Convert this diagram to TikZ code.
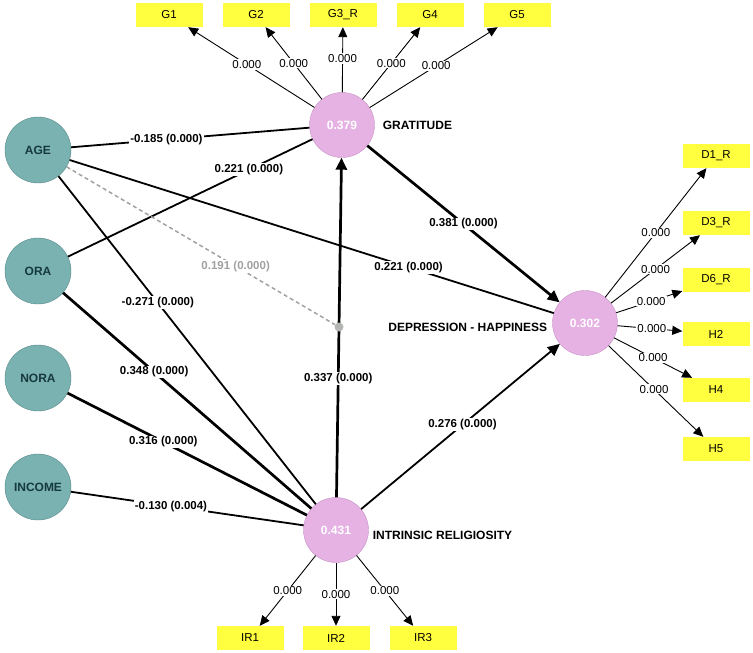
\documentclass[tikz,border=0pt]{standalone}
\usepackage{fontspec}
\setmainfont{Liberation Sans}
\usepackage{tikz}
\usetikzlibrary{positioning, arrows.meta}
\definecolor{lvteal}{RGB}{122,178,178}
\definecolor{lvtealdark}{RGB}{84,134,134}
\definecolor{lvtealtext}{RGB}{22,58,60}
\definecolor{lvpink}{RGB}{230,178,228}
\definecolor{lvpinkdark}{RGB}{196,146,196}
\definecolor{lvyellow}{RGB}{255,255,64}
\definecolor{modgray}{RGB}{160,162,160}

\begin{document}
\begin{tikzpicture}[x=1pt, y=-1pt,
    every node/.style={font=\fontsize{11.5}{13}\selectfont},
    exo/.style={circle, draw=lvtealdark, fill=lvteal, minimum size=66pt, inner sep=0pt, text=lvtealtext, font=\fontsize{12}{14}\selectfont\bfseries},
    endo/.style={circle, draw=lvpinkdark, fill=lvpink, minimum size=65pt, inner sep=0pt, text=white, font=\fontsize{12}{14}\selectfont\bfseries},
    ind/.style={rectangle, fill=lvyellow, minimum width=67pt, minimum height=24pt, inner sep=0pt},
    lvname/.style={inner sep=0pt, font=\fontsize{12}{14}\selectfont\bfseries},
    coef/.style={fill=white, inner sep=1pt, font=\fontsize{11.5}{13}\selectfont\bfseries},
    load/.style={fill=white, inner sep=1pt, pos=0.5},
    pth/.style={line width=1.8pt},
    strong/.style={line width=2.7pt},
    tip/.style={-{Triangle[length=12pt, width=11pt]}},
    outer/.style={line width=0.9pt, -{Triangle[length=10pt, width=9pt]}}]
  \useasboundingbox (0,0) rectangle (753,653);
  \node[exo] (age) at (38,150) {AGE};
  \node[exo] (ora) at (38,271) {ORA};
  \node[exo] (nora) at (38,378) {NORA};
  \node[exo] (inc) at (38,487) {INCOME};
  \node[endo] (grat) at (342,125) {0.379};
  \node[endo] (dep) at (585,323) {0.302};
  \node[endo] (ir) at (336,530) {0.431};
  \node[lvname, right=8pt of grat] {GRATITUDE};
  \node[lvname, left=5pt of dep, yshift=-4pt] {DEPRESSION - HAPPINESS};
  \node[lvname, right=4pt of ir, yshift=-5pt] {INTRINSIC RELIGIOSITY};

  \node[ind] (g1) at (169,15) {G1};
  \node[ind] (g2) at (256,15) {G2};
  \node[ind] (g3) at (343,15) {G3\_R};
  \node[ind] (g4) at (430,15) {G4};
  \node[ind] (g5) at (517,15) {G5};
  \node[ind] (d1) at (716,156) {D1\_R};
  \node[ind] (d3) at (716,223) {D3\_R};
  \node[ind] (d6) at (716,280) {D6\_R};
  \node[ind] (h2) at (716,334) {H2};
  \node[ind] (h4) at (716,390) {H4};
  \node[ind] (h5) at (716,449) {H5};
  \node[ind] (ir1) at (250,638) {IR1};
  \node[ind] (ir2) at (336,638) {IR2};
  \node[ind] (ir3) at (423,638) {IR3};

  \draw[pth] (age) -- node[coef, pos=0.40] {-0.185 (0.000)} (grat);
  \draw[pth] (ora) -- node[coef, pos=0.74] {0.221 (0.000)} (grat);
  \draw[pth] (age) -- node[coef, pos=0.386] {-0.271 (0.000)} (ir);
  \draw[pth] (age) -- node[coef, pos=0.70] {0.221 (0.000)} (dep);
  \draw[strong] (ora) -- node[coef, pos=0.367] {0.348 (0.000)} (ir);
  \draw[strong] (nora) -- node[coef, pos=0.40] {0.316 (0.000)} (ir);
  \draw[pth] (inc) -- node[coef, pos=0.43] {-0.130 (0.004)} (ir);
  \draw[strong, tip] (ir) -- node[coef, pos=0.35] {0.337 (0.000)} (grat);
  \draw[strong, tip] (grat) -- node[coef, pos=0.50] {0.381 (0.000)} (dep);
  \draw[pth, tip] (ir) -- node[coef, pos=0.51] {0.276 (0.000)} (dep);

  \node[circle, fill=modgray!80, minimum size=9pt, inner sep=0pt] (mod) at (339,327) {};
  \draw[modgray, line width=1.5pt, dash pattern=on 4pt off 3pt] (age) -- node[coef, text=modgray, pos=0.63] {0.191 (0.000)} (mod);

  \draw[outer] (grat) -- node[load, pos=0.535] {0.000} (g1);
  \draw[outer] (grat) -- node[load] {0.000} (g2);
  \draw[outer] (grat) -- node[load, pos=0.52] {0.000} (g3);
  \draw[outer] (grat) -- node[load] {0.000} (g4);
  \draw[outer] (grat) -- node[load, pos=0.52] {0.000} (g5);
  \draw[outer] (dep) -- node[load] {0.000} (d1);
  \draw[outer] (dep) -- node[load] {0.000} (d3);
  \draw[outer] (dep) -- node[load, pos=0.53] {0.000} (d6);
  \draw[outer] (dep) -- node[load, pos=0.53] {0.000} (h2);
  \draw[outer] (dep) -- node[load] {0.000} (h4);
  \draw[outer] (dep) -- node[load, pos=0.48] {0.000} (h5);
  \draw[outer] (ir) -- node[load] {0.000} (ir1);
  \draw[outer] (ir) -- node[load] {0.000} (ir2);
  \draw[outer] (ir) -- node[load] {0.000} (ir3);
\end{tikzpicture}
\end{document}
